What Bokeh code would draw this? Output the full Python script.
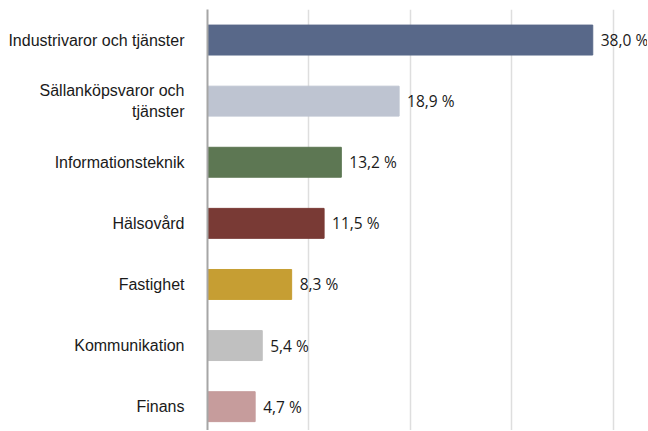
from bokeh.plotting import figure
from bokeh.models import Range1d, ColumnDataSource, FixedTicker, LabelSet
from bokeh.core.properties import value
from bokeh.embed import file_html
from bokeh.resources import INLINE

categories = ["Industrivaror och tjänster", "Sällanköpsvaror och\ntjänster",
              "Informationsteknik", "Hälsovård", "Fastighet", "Kommunikation", "Finans"]
values = [38.0, 18.9, 13.2, 11.5, 8.3, 5.4, 4.7]
colors = ["#586889", "#bec4d1", "#5d7753", "#793a35", "#c69e33", "#c0c0c0", "#c69c9c"]
grid_ticks = [10, 20, 30, 40]

n = len(categories)
ypos = [n - 1 - i for i in range(n)]
labels = [f"{v:.1f}".replace(".", ",") + " %" for v in values]

src = ColumnDataSource(dict(y=ypos, v=values, c=colors, lab=labels))

p = figure(width=647, height=430, output_backend="svg", toolbar_location=None,
           x_range=Range1d(0, 43.4), y_range=Range1d(-0.39, n - 0.5),
           min_border_left=207, min_border_right=0, min_border_top=9, min_border_bottom=0)
p.outline_line_color = None

p.hbar(y="y", right="v", left=0, height=0.49, color="c", source=src)

p.add_layout(LabelSet(x="v", y="y", text="lab", source=src, x_offset=8,
                      text_baseline="middle", text_font=value("Open Sans"),
                      text_font_size="15.5px", text_color="#1a1a1a"))

p.xaxis.visible = False
p.xgrid.ticker = FixedTicker(ticks=grid_ticks)
p.xgrid.grid_line_color = "#dedede"
p.xgrid.grid_line_width = 1.5
p.ygrid.visible = False

p.yaxis.ticker = FixedTicker(ticks=ypos)
p.yaxis.major_label_overrides = {y: c for y, c in zip(ypos, categories)}
p.yaxis.major_tick_line_color = None
p.yaxis.minor_tick_line_color = None
p.yaxis.axis_line_color = "#a6a6a6"
p.yaxis.axis_line_width = 2
p.yaxis.major_label_standoff = 17
p.yaxis.major_label_text_font = "Liberation Sans"
p.yaxis.major_label_text_font_size = "16px"
p.yaxis.major_label_text_color = "#1a1a1a"

open("out.html", "w").write(file_html(p, INLINE))
